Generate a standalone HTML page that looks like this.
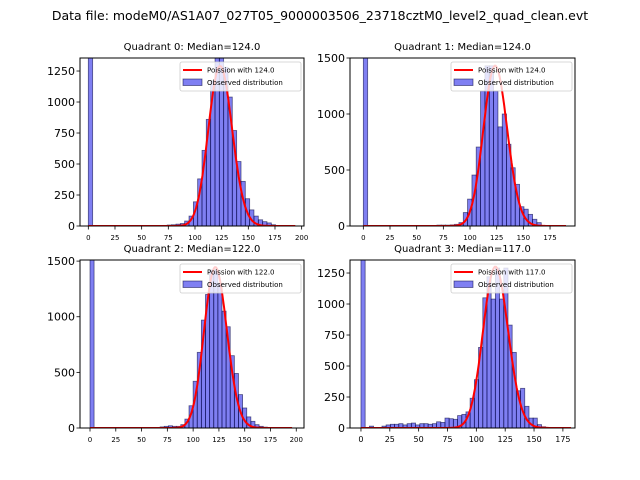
<!DOCTYPE html>
<html><head><meta charset="utf-8"><style>
body{margin:0;background:#fff}
svg{display:block;font-family:"DejaVu Sans","Liberation Sans",sans-serif}
</style></head><body>
<svg id="fig" width="640" height="480" viewBox="0 0 640 480">
<text x="320" y="20" font-size="12.5" text-anchor="middle">Data file: modeM0/AS1A07_027T05_9000003506_23718cztM0_level2_quad_clean.evt</text>
</svg>
<script>
// Quadrant medians (Poisson lambda)
const medians=[124.0,124.0,122.0,117.0];
const binWidths=[4.06,4.06,3.96,3.64];
const peakCounts=[1290,1430,1445,1300];
// Histogram bins: left edges and counts
const q0Bins=[0,70,74,78,82.2,86.3,90.3,94.4,98.5,102.5,106.6,110.6,114.7,118.8,122.8,126.9,130.9,135,139.1,143.1,147.2,151.2,155.3,159.4,163.4,167.5,171.5];
const q0Counts=[5000,5,8,10,15,20,40,80,195,380,610,860,1170,1420,1420,1280,1040,770,520,360,220,130,80,50,35,25,10];
const q1Bins=[0,69,73,77,81.5,85.5,89.6,93.7,97.7,101.8,105.8,109.9,114,118,122.1,126.2,130.2,134.3,138.3,142.4,146.5,150.5,154.6,158.6,162.7];
const q1Counts=[5000,8,8,8,10,15,30,120,240,455,705,1205,1430,1430,1205,885,1000,730,520,372,172,150,104,60,30];
const q2Bins=[0,68,72,76,80,84,88,92,96,100,104,108,112,116,120,124,128,132,136,140,144,148,152,156,160,164,168];
const q2Counts=[5000,10,15,20,15,15,30,80,200,420,680,970,1200,1420,1420,1300,1050,910,650,490,300,180,100,60,30,15,8];
const q3Bins=[0,7.3,18.2,21.8,25.5,29.1,32.8,36.4,40,43.7,47.3,51,54.6,58.2,61.9,65.5,69.2,72.8,76.4,80.1,83.7,87.4,91,94.6,98.3,101.9,105.6,109.2,112.8,116.5,120.1,123.8,127.4,131,134.7,138.3,142,145.6,149.2,152.9,156.5,160.2];
const q3Counts=[5000,15,15,25,30,30,35,25,35,40,25,35,35,30,35,50,45,80,75,70,100,110,130,240,390,650,1050,1220,1040,1290,1040,1290,830,610,300,320,175,80,80,27,10,5];
// Axis tick labels
const xTicks=[[0,25,50,75,100,125,150,175,200],[0,25,50,75,100,125,150,175],[0,25,50,75,100,125,150,175,200],[0,25,50,75,100,125,150,175]];
const yTicks=[[0,250,500,750,1000,1250],[0,500,1000,1500],[0,500,1000,1500],[0,250,500,750,1000,1250]];
const xMaxCurve=[194,190,196,182];

const NS="http://www.w3.org/2000/svg";
const svg=document.getElementById('fig');
const panels=[
 {x0:80,x1:304,y0:58,y1:226,xmin:-7.8,xmax:202.2,ymax:1355,bins:q0Bins,counts:q0Counts,xlab:7,name:'q0'},
 {x0:350,x1:575,y0:58,y1:226,xmin:-12.5,xmax:198.4,ymax:1500,bins:q1Bins,counts:q1Counts,xlab:7,name:'q1'},
 {x0:80,x1:304,y0:260,y1:428,xmin:-9.7,xmax:207.5,ymax:1510,bins:q2Bins,counts:q2Counts,xlab:7,name:'q2'},
 {x0:350,x1:575,y0:260,y1:428,xmin:-9.5,xmax:185.5,ymax:1355,bins:q3Bins,counts:q3Counts,xlab:8,name:'q3'}
];
function mk(tag,attrs,parent){const e=document.createElementNS(NS,tag);for(const k in attrs)e.setAttribute(k,attrs[k]);(parent||svg).appendChild(e);return e;}
function lfact(n){let s=0;for(let i=2;i<=n;i++)s+=Math.log(i);return s;}
panels.forEach((p,qi)=>{
 const g=mk('g',{});
 
 
 const clipId='clip'+qi;
 const cp=mk('clipPath',{id:clipId},g);mk('rect',{x:p.x0,y:p.y0,width:p.x1-p.x0,height:p.y1-p.y0},cp);
 const sx=v=>p.x0+(v-p.xmin)/(p.xmax-p.xmin)*(p.x1-p.x0);
 const sy=v=>p.y1-v/p.ymax*(p.y1-p.y0);
 const t=mk('text',{x:(p.x0+p.x1)/2,y:p.y0-8,'font-size':10,'text-anchor':'middle'},g);
 t.textContent='Quadrant '+qi+': Median='+medians[qi].toFixed(1);
 
 
 const bg=mk('g',{'clip-path':'url(#'+clipId+')'},g);
 const w=binWidths[qi];
 p.bins.forEach((b,i)=>{
  const r=mk('rect',{x:sx(b),y:sy(p.counts[i]),width:sx(b+w)-sx(b),height:sy(0)-sy(p.counts[i]),fill:'rgba(0,0,230,0.5)',stroke:'rgba(0,0,60,0.6)','stroke-width':0.8},bg);
  
  
 });
 const lam=medians[qi];const peak=Math.exp(Math.floor(lam)*Math.log(lam)-lam-lfact(Math.floor(lam)));
 let d='';
 for(let k=0;k<=xMaxCurve[qi];k++){const pm=Math.exp(k*Math.log(lam)-lam-lfact(k));const v=pm/peak*peakCounts[qi];d+=(k?'L':'M')+sx(k).toFixed(1)+','+sy(v).toFixed(1);}
 const pl=mk('path',{d:d,fill:'none',stroke:'#ff0000','stroke-width':2},bg);
 
 
 const fr=mk('rect',{x:p.x0,y:p.y0,width:p.x1-p.x0,height:p.y1-p.y0,fill:'none',stroke:'#000','stroke-width':1},g);
 
 
 xTicks[qi].forEach(v=>{
  mk('line',{x1:sx(v),x2:sx(v),y1:p.y1,y2:p.y1+3.5,stroke:'#000','stroke-width':0.8},g);
  const tl=mk('text',{x:sx(v),y:p.y1+14,'font-size':p.xlab,'text-anchor':'middle'},g);tl.textContent=v;
  
  
 });
 yTicks[qi].forEach(v=>{
  mk('line',{x1:p.x0-3.5,x2:p.x0,y1:sy(v),y2:sy(v),stroke:'#000','stroke-width':0.8},g);
  const tl=mk('text',{x:p.x0-5,y:sy(v)+4,'font-size':11,'text-anchor':'end'},g);tl.textContent=v;
  
  
 });
 const lg=mk('g',{},g);
 
 
 const lx=p.x1-124,ly=p.y0+4;
 mk('rect',{x:lx,y:ly,width:121,height:29,rx:2,fill:'rgba(255,255,255,0.8)',stroke:'#ccc','stroke-width':0.8},lg);
 mk('line',{x1:lx+3,x2:lx+22,y1:ly+8,y2:ly+8,stroke:'#ff0000','stroke-width':2},lg);
 mk('rect',{x:lx+3,y:ly+17,width:19,height:6.5,fill:'rgba(0,0,230,0.5)',stroke:'rgba(0,0,60,0.6)','stroke-width':0.8},lg);
 const t1=mk('text',{x:lx+27,y:ly+10.5,'font-size':7},lg);t1.textContent='Poission with '+medians[qi].toFixed(1);
 
 
 const t2=mk('text',{x:lx+27,y:ly+23,'font-size':7},lg);t2.textContent='Observed distribution';
 
 
});
</script>
</body></html>
